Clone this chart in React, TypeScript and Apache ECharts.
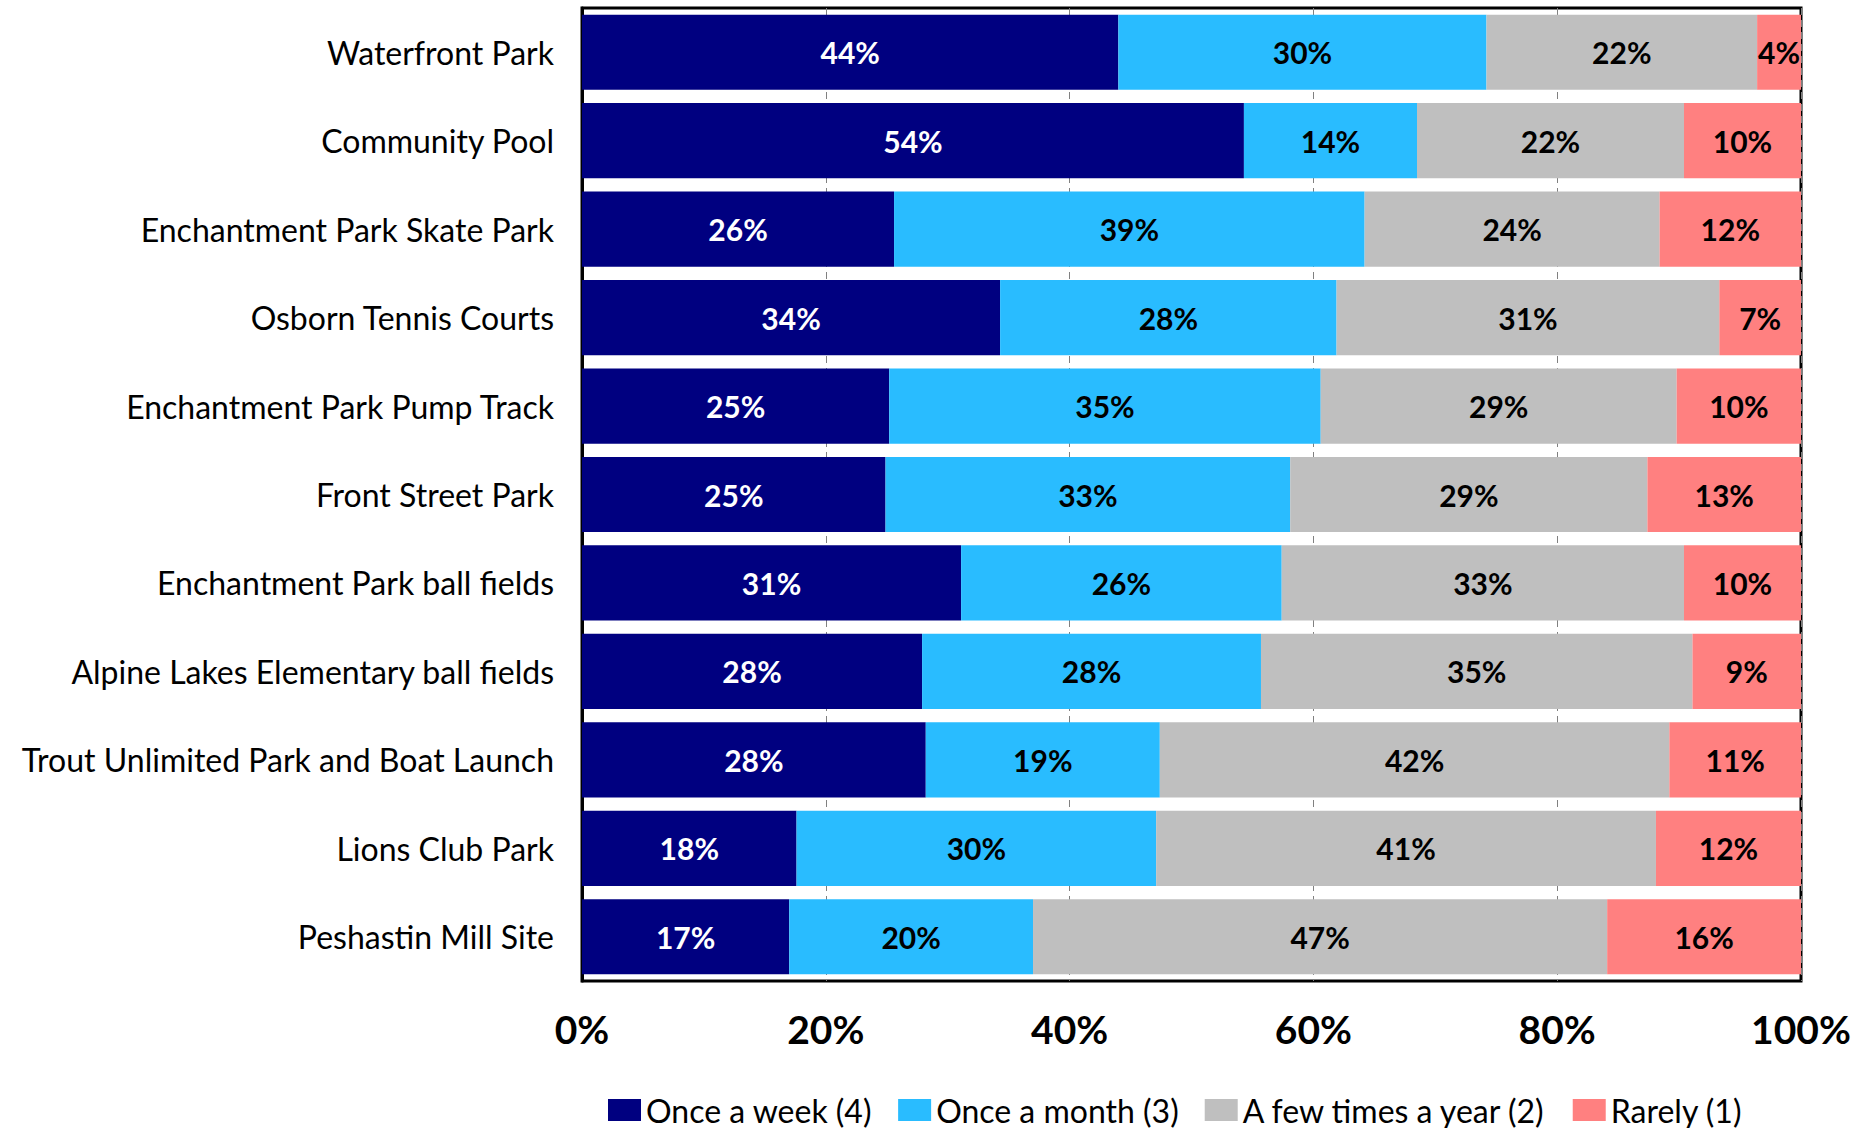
import React, { useEffect, useRef } from "react";
import * as echarts from "echarts";

const categories = [
  "Waterfront Park",
  "Community Pool",
  "Enchantment Park Skate Park",
  "Osborn Tennis Courts",
  "Enchantment Park Pump Track",
  "Front Street Park",
  "Enchantment Park ball fields",
  "Alpine Lakes Elementary ball fields",
  "Trout Unlimited Park and Boat Launch",
  "Lions Club Park",
  "Peshastin Mill Site",
];

const seriesNames = ["Once a week (4)", "Once a month (3)", "A few times a year (2)", "Rarely (1)"];

const onceAWeek = [44.0, 54.3, 25.6, 34.3, 25.2, 24.9, 31.1, 27.9, 28.2, 17.6, 17.0];
const onceAMonth = [30.2, 14.2, 38.6, 27.6, 35.4, 33.2, 26.3, 27.8, 19.2, 29.5, 20.0];
const fewTimesAYear = [22.2, 21.9, 24.2, 31.4, 29.2, 29.3, 33.0, 35.4, 41.8, 41.0, 47.1];
const rarely = [3.6, 9.6, 11.6, 6.7, 10.2, 12.6, 9.6, 8.9, 10.8, 11.9, 15.9];

const xTicks = [0, 20, 40, 60, 80, 100];

const colors = ["#000080", "#29BCFF", "#BFBFBF", "#FF8080"];
const labelColors = ["#FFFFFF", "#000000", "#000000", "#000000"];

const FONT = "Lato";

export default function App() {
  const ref = useRef<HTMLDivElement>(null);
  useEffect(() => {
    document.body.style.margin = "0";
    if (!ref.current) return;
    const chart = echarts.init(ref.current, undefined, { renderer: "svg" });
    const data = [onceAWeek, onceAMonth, fewTimesAYear, rarely];
    chart.setOption({
      animation: false,
      backgroundColor: "#FFFFFF",
      textStyle: { fontFamily: FONT },
      grid: {
        left: 582,
        right: 71,
        top: 8,
        bottom: 147,
        containLabel: false,
        show: true,
        borderColor: "#000000",
        borderWidth: 3,
        backgroundColor: "transparent",
      },
      legend: {
        data: seriesNames,
        left: 608,
        top: 1094,
        padding: 0,
        icon: "rect",
        itemWidth: 33,
        itemHeight: 22,
        itemGap: 26,
        textStyle: { fontFamily: FONT, fontSize: 32, color: "#000000" },
      },
      xAxis: {
        type: "value",
        min: xTicks[0],
        max: xTicks[xTicks.length - 1],
        interval: 20,
        axisLine: { show: false },
        axisTick: { show: false },
        splitLine: { show: true, lineStyle: { color: "#808080", width: 1, type: [7, 5] } },
        axisLabel: {
          formatter: "{value}%",
          fontFamily: FONT,
          fontWeight: "bold",
          fontSize: 39,
          color: "#000000",
          margin: 28,
        },
      },
      yAxis: {
        type: "category",
        data: categories,
        inverse: true,
        axisLine: { show: true, lineStyle: { color: "#000000", width: 3 } },
        axisTick: { show: false },
        axisLabel: {
          fontFamily: FONT,
          fontSize: 32,
          color: "#000000",
          margin: 28,
        },
      },
      series: seriesNames.map((name, i) => ({
        name,
        type: "bar",
        stack: "total",
        barCategoryGap: "15%",
        itemStyle: { color: colors[i] },
        label: {
          show: true,
          position: "inside",
          fontFamily: FONT,
          fontWeight: "bold",
          fontSize: 30,
          color: labelColors[i],
          formatter: (p: any) => Math.round(p.value) + "%",
        },
        data: data[i],
      })),
    });
    return () => chart.dispose();
  }, []);
  return <div ref={ref} style={{ width: 1872, height: 1128 }} />;
}
